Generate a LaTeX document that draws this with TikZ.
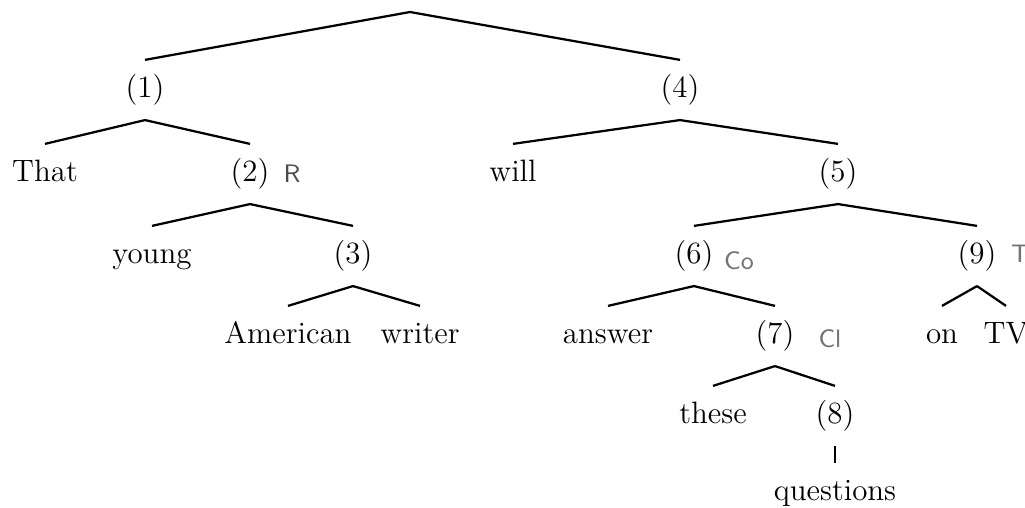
\documentclass[tikz,border=0pt]{standalone}
\usepackage{tikz}
\tikzset{
	word/.style ={anchor=base, inner xsep=2pt, inner ysep=5pt, text height=8pt, text depth=3pt, font=\fontsize{11}{13}\selectfont},
	note/.style ={anchor=base, inner sep=0pt, text=black!55, font=\sffamily\small},
	branch/.style={line width=0.8pt},
}
\begin{document}
\begin{tikzpicture}[x=0.0125cm, y=-0.0125cm]
	\useasboundingbox (0,0) rectangle (1025,507);
	\coordinate (root) at (410,12);
	% level 1
	\node[word] (n1) at (145,97) {(1)};
	\node[word] (n4) at (680,97) {(4)};
	% level 2
	\node[word] (that) at (45,181) {That};
	\node[word] (n2) at (250,181) {(2)};
	\node[word] (will) at (513,181) {will};
	\node[word] (n5) at (838,181) {(5)};
	% level 3
	\node[word] (young) at (152,263) {young};
	\node[word] (n3) at (353,263) {(3)};
	\node[word] (n6) at (694,263) {(6)};
	\node[word] (n9) at (977,263) {(9)};
	% level 4
	\node[word] (american) at (288,343) {American};
	\node[word] (writer) at (420,343) {writer};
	\node[word] (answer) at (608,343) {answer};
	\node[word] (n7) at (775,343) {(7)};
	\node[word] (on) at (942,343) {on};
	\node[word] (tv) at (1006,343) {TV};
	% level 5 and 6
	\node[word] (these) at (713,423) {these};
	\node[word] (n8) at (835,423) {(8)};
	\node[word] (questions) at (835,500) {questions};
	% pencil marks
	\node[note, text=black!70] (markR) at (292,182) {R};
	\node[note] (markCo) at (739,269) {Co};
	\node[note] (markCl) at (830,347) {Cl};
	\node[note] (markT) at (1020,262) {T};
	% branches
	\draw[branch] (root) -- (n1.north);
	\draw[branch] (root) -- (n4.north);
	\foreach \p/\c in {n1/that, n1/n2, n2/young, n2/n3, n3/american, n3/writer,
		n4/will, n4/n5, n5/n6, n5/n9, n6/answer, n6/n7, n9/on, n9/tv,
		n7/these, n7/n8, n8/questions}
		\draw[branch] (\p.south) -- (\c.north);
\end{tikzpicture}
\end{document}
